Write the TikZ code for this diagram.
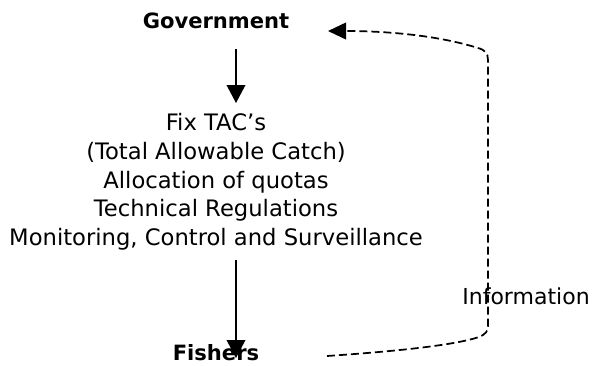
\documentclass[tikz,border=0pt]{standalone}
\usepackage{fontspec}
\setmainfont{DejaVu Sans}
\usetikzlibrary{arrows.meta}
\tikzset{
  lbl/.style={inner sep=0pt, font=\fontsize{17}{21.6}\selectfont},
  boldlbl/.style={lbl, font=\fontsize{15.8}{21.6}\selectfont\bfseries},
  solidarr/.style={line width=1.1pt, -{Triangle[length=13.5pt,width=14pt]}},
  dasharr/.style={line width=1.3pt, dash pattern=on 6pt off 3pt, -{Triangle[length=13.5pt,width=12.5pt]}}
}
\begin{document}
\begin{tikzpicture}[x=0.75pt,y=-0.75pt]
\useasboundingbox (0,0) rectangle (597,365);
\node[boldlbl, anchor=base] (gov) at (216,28) {Government};
\node[lbl, align=center, anchor=north] (rules) at (216,113) {Fix TAC’s\\(Total Allowable Catch)\\Allocation of quotas\\Technical Regulations\\Monitoring, Control and Surveillance};
\node[boldlbl, anchor=base] (fish) at (216,360) {Fishers};
\node[lbl, font=\fontsize{16.5}{20}\selectfont, anchor=base] (info) at (526,304) {Information};
\coordinate (a1s) at (236,49);
\coordinate (a1e) at (236,103);
\coordinate (a2s) at (236,260);
\coordinate (a2e) at (236,358);
\coordinate (ds) at (327,356);
\coordinate (dc1) at (488,326);
\coordinate (dc2) at (488,60);
\coordinate (de) at (328,31);
\draw[solidarr] (a1s) -- (a1e);
\draw[solidarr] (a2s) -- (a2e);
\draw[dasharr] (ds) .. controls (400,351) and (455,345) .. (479,337)
  .. controls (486,334) and (488,331) .. (dc1) -- (dc2)
  .. controls (488,53) and (485,50) .. (478,48)
  .. controls (440,36) and (390,31) .. (de);
\end{tikzpicture}
\end{document}
